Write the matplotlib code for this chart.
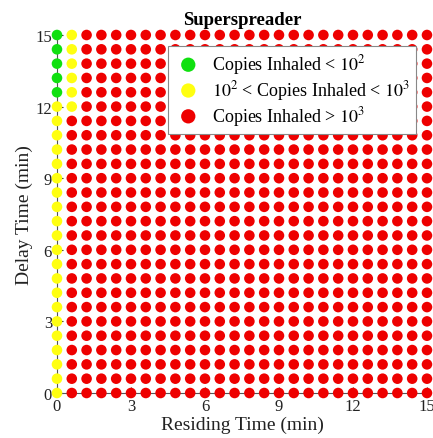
import matplotlib.pyplot as plt

plt.rcParams['font.family'] = ['Liberation Serif', 'DejaVu Serif']
plt.rcParams['mathtext.fontset'] = 'stix'

# grid of residing / delay times (min)
residing = [0.0, 0.6, 1.2, 1.8, 2.4, 3.0, 3.6, 4.2, 4.8, 5.4, 6.0, 6.6, 7.2,
            7.8, 8.4, 9.0, 9.6, 10.2, 10.8, 11.4, 12.0, 12.6, 13.2, 13.8, 14.4, 15.0]
delay = [15.0, 14.4, 13.8, 13.2, 12.6, 12.0, 11.4, 10.8, 10.2, 9.6, 9.0, 8.4, 7.8,
         7.2, 6.6, 6.0, 5.4, 4.8, 4.2, 3.6, 3.0, 2.4, 1.8, 1.2, 0.6, 0.0]

# risk class for each cell, one string per delay row (top to bottom)
# G: < 1e2 copies, Y: 1e2 - 1e3 copies, R: > 1e3 copies
risk = [
    "GY" + "R" * 24,
    "GY" + "R" * 24,
    "GY" + "R" * 24,
    "GY" + "R" * 24,
    "GY" + "R" * 24,
    "YY" + "R" * 24,
] + ["Y" + "R" * 25] * 20

classes = ['G', 'Y', 'R']
labels = ['Copies Inhaled < $10^2$',
          '$10^2$ < Copies Inhaled < $10^3$',
          'Copies Inhaled > $10^3$']
colors = ['#10e010', '#ffff10', '#ee0000']

fig = plt.figure(figsize=(4.33, 4.39), dpi=100)
ax = fig.add_axes([0.1316, 0.1025, 0.8545, 0.8155])

for c, lab, col in zip(classes, labels, colors):
    xs, ys = [], []
    for i, row in enumerate(risk):
        for j, k in enumerate(row):
            if k == c:
                xs.append(residing[j])
                ys.append(delay[i])
    ax.scatter(xs, ys, s=58, color=col, edgecolors='none', label=lab,
               clip_on=False, zorder=3)

ax.set_xlim(0, 15)
ax.set_ylim(0, 15)
ax.set_xticks([0, 3, 6, 9, 12, 15])
ax.set_yticks([0, 3, 6, 9, 12, 15])
ax.tick_params(direction='in', length=4, labelsize=12, colors='#333333',
               labelcolor='#222222')
for s in ['top', 'right']:
    ax.spines[s].set_visible(False)
for s in ['left', 'bottom']:
    ax.spines[s].set_color('#555555')
    ax.spines[s].set_linewidth(0.8)

ax.set_xlabel('Residing Time (min)', fontsize=14, color='#222222', labelpad=1)
ax.set_ylabel('Delay Time (min)', fontsize=14, color='#222222', labelpad=2)
ax.set_title('Superspreader', fontsize=13.5, fontweight='bold', pad=8)

leg = ax.legend(loc='upper right', bbox_to_anchor=(0.97, 0.97), fontsize=13,
                markerscale=1.35, frameon=True, fancybox=False,
                edgecolor='#888888', framealpha=1, handletextpad=0.5,
                handlelength=1.6, borderpad=0.35, labelspacing=0.1,
                borderaxespad=0)
leg.get_frame().set_linewidth(0.8)
leg.set_zorder(5)

fig.savefig('out.png', dpi=100)
